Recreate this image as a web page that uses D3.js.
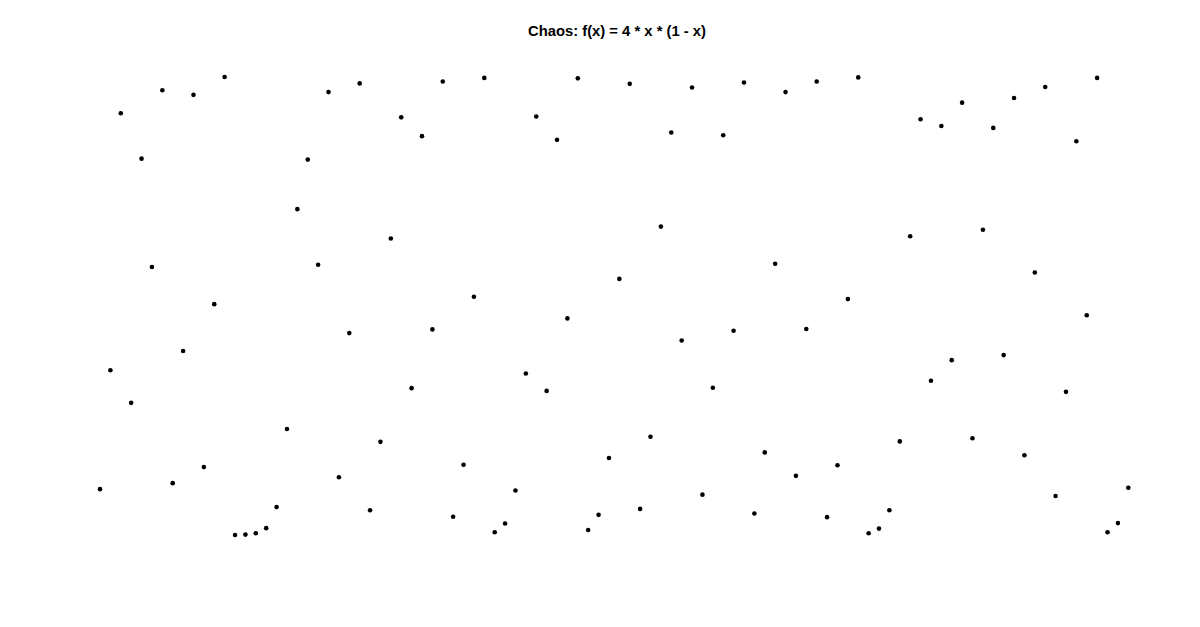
<!DOCTYPE html>
<html>
<head>
<meta charset="utf-8">
<script src="https://cdn.jsdelivr.net/npm/d3@7"></script>
<style>
  html, body { margin: 0; padding: 0; background: #fff; }
  svg { display: block; }
</style>
</head>
<body>
<script>
const titleText = "Chaos: f(x) = 4 * x * (1 - x)";
const iterations = d3.range(1, 101);
const values = [
  0.101, 0.360, 0.920, 0.289, 0.821, 0.585, 0.970, 0.114, 0.402, 0.960,
  0.149, 0.504, 0.999, 0.001, 0.002, 0.005, 0.016, 0.062, 0.232, 0.711,
  0.819, 0.590, 0.966, 0.127, 0.441, 0.985, 0.055, 0.204, 0.647, 0.911,
  0.321, 0.870, 0.449, 0.989, 0.041, 0.154, 0.520, 0.997, 0.007, 0.026,
  0.098, 0.353, 0.913, 0.315, 0.862, 0.473, 0.996, 0.012, 0.045, 0.169,
  0.559, 0.984, 0.058, 0.215, 0.673, 0.878, 0.425, 0.976, 0.089, 0.322,
  0.872, 0.446, 0.987, 0.048, 0.181, 0.592, 0.966, 0.130, 0.450, 0.989,
  0.040, 0.153, 0.515, 0.998, 0.005, 0.015, 0.055, 0.205, 0.652, 0.907,
  0.337, 0.892, 0.382, 0.943, 0.212, 0.666, 0.888, 0.393, 0.953, 0.175,
  0.573, 0.977, 0.086, 0.313, 0.859, 0.480, 0.997, 0.007, 0.027, 0.104
];

const W = 1200, H = 627;
const svg = d3.select("body").append("svg").attr("width", W).attr("height", H);

const x = d3.scaleLinear().domain([1, 100]).range([100, 1128.3]);
const y = d3.scaleLinear().domain([0, 1]).range([535.5, 76.5]);

svg.append("text")
  .attr("x", 617).attr("y", 35.5)
  .attr("text-anchor", "middle")
  .attr("font-family", "Liberation Sans, Arial, Helvetica, sans-serif")
  .attr("font-weight", "bold")
  .attr("font-size", 14.8)
  .attr("fill", "#000")
  .text(titleText);

svg.append("g").selectAll("circle")
  .data(iterations)
  .join("circle")
  .attr("cx", d => x(d))
  .attr("cy", (d, i) => y(values[i]))
  .attr("r", 2.3)
  .attr("fill", "#000");
</script>
</body>
</html>
